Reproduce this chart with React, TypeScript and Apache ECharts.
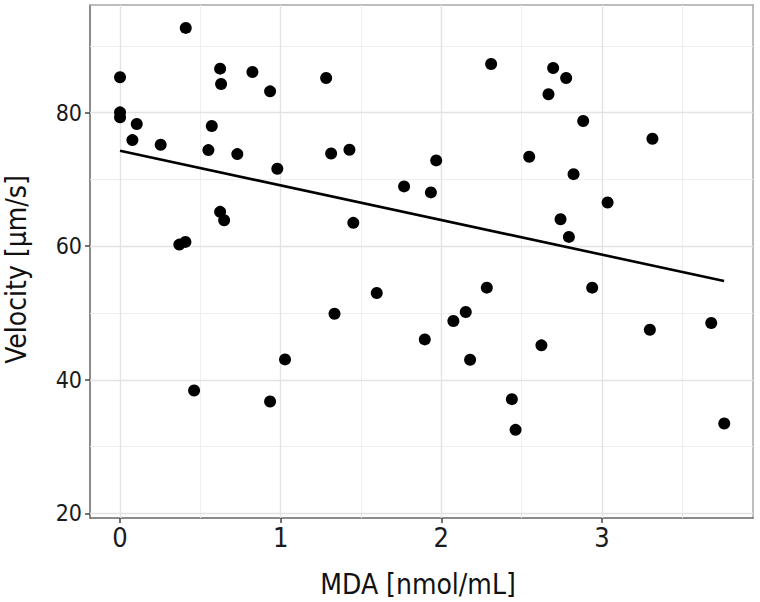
import React, { useEffect, useRef } from "react";
import * as echarts from "echarts";

const mdaValues = [
  0.409, 0, 0, 0, 0.104, 0.077, 0.253, 0.623, 0.629, 0.824, 0.934, 0.571, 0.55, 0.73, 0.979,
  1.283, 1.314, 1.428, 0.623, 0.648, 1.452, 0.369, 0.407, 1.598, 2.31, 2.696, 2.777, 2.667,
  2.883, 3.314, 2.547, 1.968, 2.823, 1.768, 1.935, 3.035, 2.742, 2.794, 2.283, 2.939, 1.335,
  1.027, 0.461, 0.934, 2.152, 2.075, 1.897, 2.623, 2.179, 2.439, 2.462, 3.298, 3.68, 3.761,
];
const velocityValues = [
  92.7, 85.3, 80.05, 79.3, 78.3, 75.9, 75.2, 86.6, 84.3, 86.1, 83.2, 78.0, 74.4, 73.8, 71.6,
  85.2, 73.9, 74.45, 65.15, 63.9, 63.5, 60.25, 60.65, 53.0, 87.3, 86.7, 85.2, 82.76,
  78.75, 76.1, 73.4, 72.86, 70.8, 68.96, 68.06, 66.56, 64.05, 61.4, 53.8, 53.8, 49.9,
  43.05, 38.4, 36.75, 50.15, 48.8, 46.05, 45.16, 43.0, 37.1, 32.5, 47.5, 48.5, 33.45,
];
const fitX = [0, 3.76];
const fitY = [74.3, 54.8];

const xTicks = [0, 1, 2, 3];
const xMinorTicks = [0.5, 1.5, 2.5, 3.5];
const yTicks = [20, 40, 60, 80];
const yMinorTicks = [30, 50, 70, 90];

const xTitle = "MDA [nmol/mL]";
const yTitle = "Velocity [μm/s]";

const FONT = "'DejaVu Sans Condensed', 'DejaVu Sans', sans-serif";
const X_MIN = -0.187;
const X_MAX = 3.94;
const Y_MIN = 19.3;
const Y_MAX = 96.13;

export default function App() {
  const ref = useRef<HTMLDivElement>(null);
  useEffect(() => {
    if (!ref.current) return;
    const chart = echarts.init(ref.current, null, { renderer: "svg" });
    const major = { color: "#e3e3e3", width: 1.4, type: "solid" };
    const minor = { color: "#efefef", width: 1, type: "solid" };
    const gridLines = [
      ...xMinorTicks.map((v) => ({ xAxis: v, lineStyle: minor })),
      ...yMinorTicks.map((v) => ({ yAxis: v, lineStyle: minor })),
      ...xTicks.map((v) => ({ xAxis: v, lineStyle: major })),
      ...yTicks.map((v) => ({ yAxis: v, lineStyle: major })),
    ];
    const borderAxis = {
      type: "value",
      axisLine: { show: true, onZero: false, lineStyle: { color: "#a8a8a8", width: 1.5 } },
      axisTick: { show: false },
      axisLabel: { show: false },
      splitLine: { show: false },
    };
    chart.setOption({
      animation: false,
      backgroundColor: "#ffffff",
      grid: { left: 90, top: 5, right: 7, bottom: 84, containLabel: false, outerBoundsMode: "none" },
      xAxis: [
        {
          type: "value",
          min: X_MIN,
          max: X_MAX,
          name: xTitle,
          nameLocation: "middle",
          nameGap: 52,
          nameTextStyle: { fontFamily: FONT, fontSize: 28, color: "#111", padding: [0, 7, 0, 0] },
          axisLine: { show: true, onZero: false, lineStyle: { color: "#666", width: 1.5 } },
          axisTick: { show: true, customValues: xTicks, length: 5, lineStyle: { color: "#444", width: 1.5 } },
          axisLabel: {
            customValues: xTicks,
            fontFamily: FONT,
            fontSize: 27,
            color: "#1a1a1a",
            margin: 6,
          },
          splitLine: { show: false },
        },
        { ...borderAxis, position: "top", min: X_MIN, max: X_MAX },
      ],
      yAxis: [
        {
          type: "value",
          min: Y_MIN,
          max: Y_MAX,
          name: yTitle,
          nameLocation: "middle",
          nameGap: 60,
          nameTextStyle: { fontFamily: FONT, fontSize: 28, color: "#111", padding: [0, 16, 0, 0] },
          axisLine: { show: true, onZero: false, lineStyle: { color: "#666", width: 1.5 } },
          axisTick: { show: true, customValues: yTicks, length: 5, lineStyle: { color: "#444", width: 1.5 } },
          axisLabel: {
            customValues: yTicks,
            fontFamily: FONT,
            fontSize: 23,
            color: "#1a1a1a",
            margin: 8,
          },
          splitLine: { show: false },
        },
        { ...borderAxis, position: "right", min: Y_MIN, max: Y_MAX },
      ],
      series: [
        {
          type: "line",
          data: [],
          z: 1,
          silent: true,
          markLine: {
            silent: true,
            z: 1,
            symbol: ["none", "none"],
            label: { show: false },
            animation: false,
            data: gridLines,
          },
        },
        {
          type: "line",
          data: fitX.map((x, i) => [x, fitY[i]]),
          showSymbol: false,
          symbol: "none",
          lineStyle: { color: "#000", width: 2.6 },
          z: 3,
        },
        {
          type: "scatter",
          data: mdaValues.map((x, i) => [x, velocityValues[i]]),
          symbolSize: 12,
          itemStyle: { color: "#000", opacity: 1 },
          z: 4,
        },
      ],
    });
    return () => chart.dispose();
  }, []);
  return <div ref={ref} style={{ width: 760, height: 602, position: "fixed", left: 0, top: 0 }} />;
}
